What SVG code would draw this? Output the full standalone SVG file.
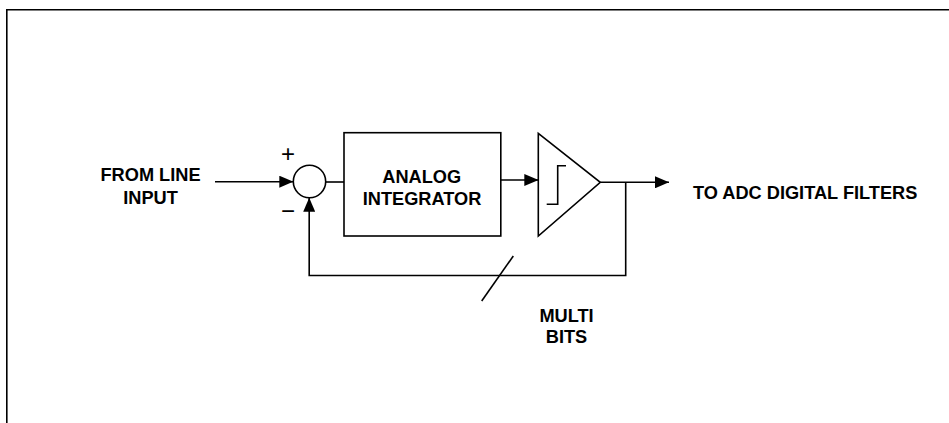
<svg xmlns="http://www.w3.org/2000/svg" width="949" height="423" viewBox="0 0 949 423">
<style>
.ln{fill:none;stroke:#000;stroke-width:1.6}
.t{font-family:"Liberation Sans",Arial,sans-serif;font-weight:bold;font-size:18.2px;fill:#000}
.s{font-family:"Liberation Sans",Arial,sans-serif;font-size:24px;fill:#000}
</style>
<defs>
<marker id="ah" viewBox="0 0 14 12" refX="14" refY="6" markerWidth="14" markerHeight="12" markerUnits="userSpaceOnUse" orient="auto">
<path d="M0,0 L14,6 L0,12 Z" fill="#000"/>
</marker>
</defs>
<rect width="949" height="423" fill="#fff"/>
<path class="ln" d="M6.8,423 V9.8 H949" stroke-width="1.8"/>
<g id="labels">
<text class="t" x="150.5" y="180.5" text-anchor="middle">FROM LINE</text>
<text class="t" x="150.5" y="203.5" text-anchor="middle">INPUT</text>
<text class="t" x="693" y="199" >TO ADC DIGITAL FILTERS</text>
<text class="t" x="566.5" y="321.5" text-anchor="middle">MULTI</text>
<text class="t" x="566.5" y="343" text-anchor="middle">BITS</text>
<text class="s" x="288" y="162.4" text-anchor="middle">+</text>
<text class="s" x="288" y="219.4" text-anchor="middle">−</text>
</g>
<g id="summer">
<circle class="ln" cx="309.5" cy="181.5" r="16.2"/>
</g>
<g id="integrator">
<rect class="ln" x="344" y="132.7" width="156.8" height="103.3"/>
<text class="t" x="421.7" y="183.3" text-anchor="middle">ANALOG</text>
<text class="t" x="422" y="205" text-anchor="middle">INTEGRATOR</text>
</g>
<g id="quantizer">
<path class="ln" d="M538.3,133.3 L600.3,182.3 L538.3,236 Z"/>
<path class="ln" d="M546.7,204.3 H557.7 V165.7 H566"/>
</g>
<g id="connectors">
<path class="ln" d="M215,181.7 H293.3" marker-end="url(#ah)"/>
<path class="ln" d="M325.7,182 H344"/>
<path class="ln" d="M500.8,180 H538.3" marker-end="url(#ah)"/>
<path class="ln" d="M600.3,182.3 H669" marker-end="url(#ah)"/>
<path class="ln" d="M625.7,182.3 V275.5 H309.2 V197.7" marker-end="url(#ah)"/>
<path class="ln" d="M481.7,301 L513.3,256"/>
</g>
</svg>
